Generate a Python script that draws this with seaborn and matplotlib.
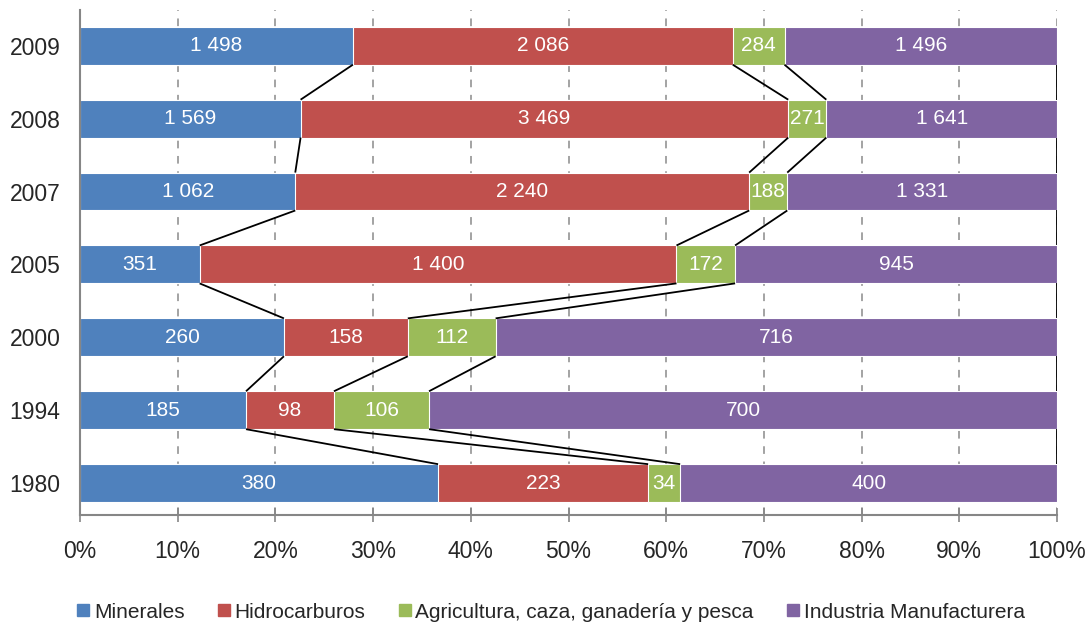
import numpy as np
import pandas as pd
import seaborn as sns
import matplotlib.pyplot as plt
from matplotlib.lines import Line2D

# Values (millones de dólares)
years = ['2009', '2008', '2007', '2005', '2000', '1994', '1980']
minerales = [1498, 1569, 1062, 351, 260, 185, 380]
hidrocarburos = [2086, 3469, 2240, 1400, 158, 98, 223]
agricultura = [284, 271, 188, 172, 112, 106, 34]
industria = [1496, 1641, 1331, 945, 716, 700, 400]

series_names = ['Minerales', 'Hidrocarburos',
                'Agricultura, caza, ganadería y pesca', 'Industria Manufacturera']
colors = ['#4F81BD', '#C0504D', '#9BBB59', '#8064A2']

sns.set_theme(style='white')
plt.rcParams['font.family'] = ['Liberation Sans', 'DejaVu Sans']

values = np.array([minerales, hidrocarburos, agricultura, industria], dtype=float).T
shares = values / values.sum(axis=1, keepdims=True)
cum = np.cumsum(shares, axis=1)
df = pd.DataFrame(cum, columns=series_names)
df['year'] = years

fig, ax = plt.subplots(figsize=(10.89, 6.26), dpi=100)
fig.subplots_adjust(left=0.0735, right=0.9706, top=0.984, bottom=0.177)

bar_h = 0.52
# draw cumulative bars from the longest to the shortest to get the stacked look
for k in range(3, -1, -1):
    sns.barplot(data=df, x=series_names[k], y='year', order=years, orient='h',
                color=colors[k], saturation=1, width=bar_h,
                edgecolor='white', linewidth=0.8, ax=ax, zorder=2)

# segment labels
for i in range(len(years)):
    left = 0.0
    for k in range(4):
        mid = left + shares[i, k] / 2
        txt = f'{int(values[i, k]):,}'.replace(',', ' ')
        ax.text(mid, i, txt, ha='center', va='center', color='white',
                fontsize=15, zorder=4)
        left = cum[i, k]

# series lines between neighbouring bars
for i in range(len(years) - 1):
    for k in range(4):
        ax.plot([cum[i, k], cum[i + 1, k]], [i + bar_h / 2, i + 1 - bar_h / 2],
                color='black', lw=1.3, zorder=3, solid_capstyle='butt')

ax.set_xlim(0, 1)
ax.set_ylim(6.44, -0.49)
ax.set_xticks(np.arange(0, 1.01, 0.1))
ax.set_xticklabels([f'{int(round(t * 100))}%' for t in np.arange(0, 1.01, 0.1)])
ax.set_xlabel('')
ax.set_ylabel('')

ax.xaxis.grid(True, linestyle=(0, (5, 5)), color='#8a8a8a', lw=1.1)
ax.yaxis.grid(False)
ax.set_axisbelow(True)

for side in ['top', 'right']:
    ax.spines[side].set_visible(False)
for side in ['left', 'bottom']:
    ax.spines[side].set_color('#868686')
    ax.spines[side].set_linewidth(1.5)

ax.tick_params(axis='x', which='major', direction='inout', length=10, width=1.2,
               color='#868686', labelsize=16.5, pad=13, bottom=True)
ax.tick_params(axis='y', length=0, labelsize=16.5, pad=14)

handles = [Line2D([], [], marker='s', linestyle='none', markersize=8,
                  markerfacecolor=c, markeredgecolor=c) for c in colors]
fig.legend(handles, series_names, loc='center', ncol=4,
           bbox_to_anchor=(0.505, 0.022), frameon=False, handletextpad=0.1,
           columnspacing=1.5, handlelength=0.8,
           prop={'family': ['Liberation Sans'], 'size': 15})

plt.savefig('out.png', dpi=100)
